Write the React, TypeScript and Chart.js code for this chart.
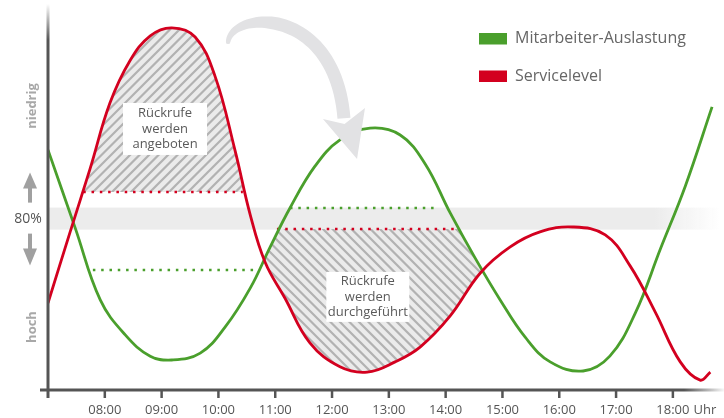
import React, { useEffect, useRef } from "react";
import { Chart, registerables } from "chart.js";

Chart.register(...registerables);

// ---- data (x = hour of day, y = relative level 0..100) ----
const greenX = [7.0, 7.48, 7.92, 8.36, 8.8, 9.18, 9.68, 10.12, 10.56, 10.91, 11.26, 11.7, 12.14, 12.67, 13.2, 13.64, 14.08, 14.52, 14.96, 15.4, 15.84, 16.42, 16.89, 17.34, 17.78, 18.22, 18.69];
const greenY = [63.2, 42.6, 23.7, 14.5, 8.9, 7.9, 9.7, 16.6, 26.8, 37.6, 47.9, 58.9, 65.8, 68.9, 67.1, 59.5, 46.6, 34.7, 23.7, 13.9, 7.4, 5.0, 8.9, 20.3, 37.1, 53.7, 74.5];

const redX = [7.0, 7.39, 7.74, 8.09, 8.44, 8.8, 9.18, 9.59, 9.94, 10.29, 10.56, 10.82, 11.17, 11.61, 12.14, 12.62, 13.11, 13.55, 14.08, 14.61, 15.13, 15.66, 16.24, 16.81, 17.25, 17.69, 18.13, 18.48, 18.66];
const redY = [22.9, 41.6, 58.2, 75.5, 86.6, 93.2, 95.3, 92.9, 82.6, 63.2, 46.1, 33.7, 24.2, 12.4, 6.1, 4.7, 7.4, 11.3, 19.5, 30.8, 37.6, 41.6, 42.9, 40.8, 32.6, 20.5, 7.4, 2.6, 4.7];

// dotted reference levels
const redLevel1X = [7.62, 10.43];
const redLevel1Y = [52.1, 52.1];
const greenLevel1X = [7.79, 10.68];
const greenLevel1Y = [31.6, 31.6];
const greenLevel2X = [11.26, 13.85];
const greenLevel2Y = [47.9, 47.9];
const redLevel2X = [11.03, 14.17];
const redLevel2Y = [42.4, 42.4];

const targetValue = 45.1;
const targetHalf = 2.9;
const targetLabel = "80%";

const tickHours = [8, 9, 10, 11, 12, 13, 14, 15, 16, 17, 18];
const tickLabels = ["08:00", "09:00", "10:00", "11:00", "12:00", "13:00", "14:00", "15:00", "16:00", "17:00", "18:00"];
const timeUnit = "Uhr";

const axisTopLabel = "niedrig";
const axisBottomLabel = "hoch";
const seriesNames = ["Mitarbeiter-Auslastung", "Servicelevel"];
const offeredText = ["Rückrufe", "werden", "angeboten"];
const doneText = ["Rückrufe", "werden", "durchgeführt"];

const GREEN = "#4a9f2c";
const RED = "#d3001f";
const FONT = "'Open Sans', 'DejaVu Sans', sans-serif";

const pts = (xs: number[], ys: number[]) => xs.map((x, i) => ({ x, y: ys[i] }));

function tracePath(ctx: CanvasRenderingContext2D, line: any, chart: any) {
  if (line.updateControlPoints) line.updateControlPoints(chart.chartArea, "x");
  const p = line.points;
  ctx.moveTo(p[0].x, p[0].y);
  for (let i = 1; i < p.length; i++) {
    const a = p[i - 1], b = p[i];
    if (a.cp2x !== undefined && b.cp1x !== undefined) {
      ctx.bezierCurveTo(a.cp2x, a.cp2y, b.cp1x, b.cp1y, b.x, b.y);
    } else ctx.lineTo(b.x, b.y);
  }
  return p;
}

function hatch(ctx: CanvasRenderingContext2D, ca: any, dir: number) {
  ctx.fillStyle = "#ebebeb";
  ctx.fillRect(ca.left, ca.top, ca.right - ca.left, ca.bottom - ca.top);
  ctx.strokeStyle = "#b2b2b2";
  ctx.lineWidth = 2.2;
  const H = ca.bottom - ca.top;
  ctx.beginPath();
  for (let x0 = ca.left - H - 20; x0 < ca.right + 20; x0 += 9.5) {
    if (dir > 0) {
      ctx.moveTo(x0, ca.bottom);
      ctx.lineTo(x0 + H, ca.top);
    } else {
      ctx.moveTo(x0, ca.top);
      ctx.lineTo(x0 + H, ca.bottom);
    }
  }
  ctx.stroke();
}

function labelBox(ctx: CanvasRenderingContext2D, cx: number, cy: number, w: number, h: number, lines: string[]) {
  ctx.fillStyle = "#ffffff";
  ctx.fillRect(cx - w / 2, cy - h / 2, w, h);
  ctx.fillStyle = "#5a5a5a";
  ctx.font = `13px ${FONT}`;
  ctx.textAlign = "center";
  ctx.textBaseline = "middle";
  const lh = 15.5;
  lines.forEach((t, i) => ctx.fillText(t, cx, cy + (i - (lines.length - 1) / 2) * lh));
}

const decor = {
  id: "decor",
  beforeDatasetsDraw(chart: any) {
    const { ctx, chartArea: ca, scales } = chart;
    const x = scales.x, y = scales.y;
    // target band
    const yb1 = y.getPixelForValue(targetValue + targetHalf);
    const yb2 = y.getPixelForValue(targetValue - targetHalf);
    const bx1 = x.getPixelForValue(18.83);
    const g = ctx.createLinearGradient(bx1 - 65, 0, bx1, 0);
    g.addColorStop(0, "rgba(236,236,236,1)");
    g.addColorStop(1, "rgba(236,236,236,0)");
    ctx.save();
    ctx.fillStyle = g;
    ctx.fillRect(ca.left, yb1, bx1 - ca.left, yb2 - yb1);
    ctx.restore();

    const red = chart.getDatasetMeta(0).dataset;
    const green = chart.getDatasetMeta(1).dataset;

    // region 1: above red level 1, under red curve
    const l1 = y.getPixelForValue(redLevel1Y[0]);
    ctx.save();
    ctx.beginPath();
    ctx.rect(x.getPixelForValue(redLevel1X[0]) - 3, ca.top, x.getPixelForValue(redLevel1X[1]) - x.getPixelForValue(redLevel1X[0]) + 6, l1 - ca.top);
    ctx.clip();
    ctx.beginPath();
    let p = tracePath(ctx, red, chart);
    ctx.lineTo(p[p.length - 1].x, ca.bottom + 5);
    ctx.lineTo(p[0].x, ca.bottom + 5);
    ctx.closePath();
    ctx.clip();
    hatch(ctx, ca, 1);
    ctx.restore();

    // region 2: below red level 2, above red curve, below green curve
    const l2 = y.getPixelForValue(redLevel2Y[0]);
    const xa = x.getPixelForValue(10.6), xb = x.getPixelForValue(14.9);
    ctx.save();
    ctx.beginPath();
    ctx.rect(xa, l2, xb - xa, ca.bottom - l2);
    ctx.clip();
    ctx.beginPath();
    p = tracePath(ctx, red, chart);
    ctx.lineTo(p[p.length - 1].x, ca.top - 5);
    ctx.lineTo(p[0].x, ca.top - 5);
    ctx.closePath();
    ctx.clip();
    ctx.beginPath();
    p = tracePath(ctx, green, chart);
    ctx.lineTo(p[p.length - 1].x, ca.bottom + 5);
    ctx.lineTo(p[0].x, ca.bottom + 5);
    ctx.closePath();
    ctx.clip();
    hatch(ctx, ca, -1);
    ctx.restore();
  },
  afterDatasetsDraw(chart: any) {
    const { ctx, scales } = chart;
    const x = scales.x, y = scales.y;
    const P = (h: number, v: number) => [x.getPixelForValue(h), y.getPixelForValue(v)];
    ctx.save();
    labelBox(ctx, P(9.06, 68.7)[0], P(9.06, 68.7)[1], 84, 52, offeredText);
    labelBox(ctx, P(12.63, 24.5)[0], P(12.63, 24.5)[1], 83, 50, doneText);

    // big curved arrow
    const c = [P(10.17, 91.6), P(10.24, 100), P(12.05, 101.3), P(12.21, 71.5)];
    const bez = (t: number) => {
      const u = 1 - t;
      return [0, 1].map(k => u * u * u * c[0][k] + 3 * u * u * t * c[1][k] + 3 * u * t * t * c[2][k] + t * t * t * c[3][k]);
    };
    const der = (t: number) => {
      const u = 1 - t;
      return [0, 1].map(k => 3 * u * u * (c[1][k] - c[0][k]) + 6 * u * t * (c[2][k] - c[1][k]) + 3 * t * t * (c[3][k] - c[2][k]));
    };
    const L: number[][] = [], R: number[][] = [];
    const N = 50;
    for (let i = 0; i <= N; i++) {
      const t = i / N;
      const q = bez(t), d = der(t);
      const len = Math.hypot(d[0], d[1]) || 1;
      const nx = -d[1] / len, ny = d[0] / len;
      const w = 2.2 + 4.3 * Math.min(1, t / 0.45);
      L.push([q[0] + nx * w, q[1] + ny * w]);
      R.push([q[0] - nx * w, q[1] - ny * w]);
    }
    ctx.fillStyle = "#e2e2e4";
    ctx.beginPath();
    ctx.moveTo(L[0][0], L[0][1]);
    L.forEach(q => ctx.lineTo(q[0], q[1]));
    for (let i = R.length - 1; i >= 0; i--) ctx.lineTo(R[i][0], R[i][1]);
    ctx.closePath();
    ctx.fill();
    ctx.beginPath();
    ctx.arc(c[0][0], c[0][1], 2.2, 0, Math.PI * 2);
    ctx.fill();
    const hl = P(11.84, 71.3), hr = P(12.58, 74.2), tip = P(12.44, 60.8), notch = P(12.22, 70.0);
    ctx.beginPath();
    ctx.moveTo(hl[0], hl[1]);
    ctx.lineTo(notch[0], notch[1]);
    ctx.lineTo(hr[0], hr[1]);
    ctx.lineTo(tip[0], tip[1]);
    ctx.closePath();
    ctx.fill();
    ctx.restore();
  },
  afterDraw(chart: any) {
    const { ctx, chartArea: ca, scales } = chart;
    const x = scales.x, y = scales.y;
    ctx.save();
    const axisColor = "#555555";
    // y axis with fade at top
    const gy = ctx.createLinearGradient(0, ca.top - 6, 0, ca.top + 30);
    gy.addColorStop(0, "rgba(85,85,85,0)");
    gy.addColorStop(1, "rgba(85,85,85,1)");
    ctx.strokeStyle = gy;
    ctx.lineWidth = 3;
    ctx.beginPath();
    ctx.moveTo(ca.left, ca.top - 6);
    ctx.lineTo(ca.left, ca.bottom + 8);
    ctx.stroke();
    // x axis with fade at right
    const gx = ctx.createLinearGradient(ca.right - 40, 0, ca.right, 0);
    gx.addColorStop(0, "rgba(85,85,85,1)");
    gx.addColorStop(1, "rgba(85,85,85,0.05)");
    ctx.strokeStyle = gx;
    ctx.beginPath();
    ctx.moveTo(ca.left - 8, ca.bottom);
    ctx.lineTo(ca.right, ca.bottom);
    ctx.stroke();
    // ticks
    ctx.strokeStyle = axisColor;
    ctx.lineWidth = 2.5;
    ctx.fillStyle = "#555555";
    ctx.font = `13px ${FONT}`;
    ctx.textBaseline = "middle";
    tickHours.forEach((h, i) => {
      const px = x.getPixelForValue(h);
      ctx.beginPath();
      ctx.moveTo(px, ca.bottom);
      ctx.lineTo(px, ca.bottom + 8);
      ctx.stroke();
      ctx.textAlign = "center";
      ctx.fillText(tickLabels[i], px, ca.bottom + 20);
      if (i === tickHours.length - 1) {
        const w = ctx.measureText(tickLabels[i]).width;
        ctx.textAlign = "left";
        ctx.fillText(timeUnit, px + w / 2 + 4, ca.bottom + 20);
      }
    });

    // side labels
    const axisLabelX = ca.left - 16;
    ctx.fillStyle = "#a8a8a8";
    ctx.font = `bold 13px ${FONT}`;
    ctx.textAlign = "center";
    [[axisTopLabel, 106], [axisBottomLabel, 327]].forEach(([t, py]) => {
      ctx.save();
      ctx.translate(axisLabelX, py as number);
      ctx.rotate(-Math.PI / 2);
      ctx.fillText(t as string, 0, 0);
      ctx.restore();
    });
    const ty = y.getPixelForValue(targetValue);
    ctx.fillStyle = "#555555";
    ctx.font = `14px ${FONT}`;
    ctx.fillText(targetLabel, 28, ty);
    // small arrows
    ctx.fillStyle = "#a0a0a0";
    const ax = 30;
    ctx.beginPath();
    ctx.moveTo(ax, ty - 46);
    ctx.lineTo(ax + 7, ty - 30);
    ctx.lineTo(ax - 7, ty - 30);
    ctx.closePath();
    ctx.fill();
    ctx.fillRect(ax - 2, ty - 31, 4, 15);
    ctx.beginPath();
    ctx.moveTo(ax, ty + 47);
    ctx.lineTo(ax + 7, ty + 30);
    ctx.lineTo(ax - 7, ty + 30);
    ctx.closePath();
    ctx.fill();
    ctx.fillRect(ax - 2, ty + 15, 4, 16);

    // legend
    ctx.font = `16px ${FONT}`;
    ctx.textAlign = "left";
    [[GREEN, seriesNames[0], 38.5], [RED, seriesNames[1], 76]].forEach(([col, t, cy]) => {
      ctx.fillStyle = col as string;
      ctx.fillRect(479, (cy as number) - 5.5, 28, 11.5);
      ctx.fillStyle = "#666666";
      ctx.fillText(t as string, 515, cy as number);
    });
    ctx.restore();
  },
};

export default function App() {
  const ref = useRef<HTMLCanvasElement>(null);
  useEffect(() => {
    if (!ref.current) return;
    const dotted = (xs: number[], ys: number[], color: string) => ({
      data: pts(xs, ys),
      borderColor: color,
      borderWidth: 2.5,
      borderDash: [2.5, 5.8],
      borderCapStyle: "butt" as const,
      pointRadius: 0,
      tension: 0,
      fill: false,
    });
    const chart = new Chart(ref.current, {
      type: "line",
      data: {
        datasets: [
          { label: seriesNames[1], data: pts(redX, redY), borderColor: RED, borderWidth: 2.8, pointRadius: 0, tension: 0.4, fill: false },
          { label: seriesNames[0], data: pts(greenX, greenY), borderColor: GREEN, borderWidth: 2.8, pointRadius: 0, tension: 0.4, fill: false },
          dotted(redLevel1X, redLevel1Y, RED),
          dotted(greenLevel1X, greenLevel1Y, GREEN),
          dotted(greenLevel2X, greenLevel2Y, GREEN),
          dotted(redLevel2X, redLevel2Y, RED),
        ] as any,
      },
      options: {
        responsive: false,
        animation: false,
        layout: { padding: { left: 48, right: 0, top: 10, bottom: 28 } },
        scales: {
          x: { type: "linear", min: 7, max: 18.9, display: false },
          y: { min: 0, max: 100, display: false },
        },
        plugins: { legend: { display: false }, tooltip: { enabled: false } },
        events: [],
      },
      plugins: [decor],
    });
    return () => chart.destroy();
  }, []);
  return (
    <div style={{ position: "absolute", left: 0, top: 0, width: 724, height: 418, background: "#fff" }}>
      <canvas ref={ref} width={724} height={418} style={{ display: "block" }} />
    </div>
  );
}
